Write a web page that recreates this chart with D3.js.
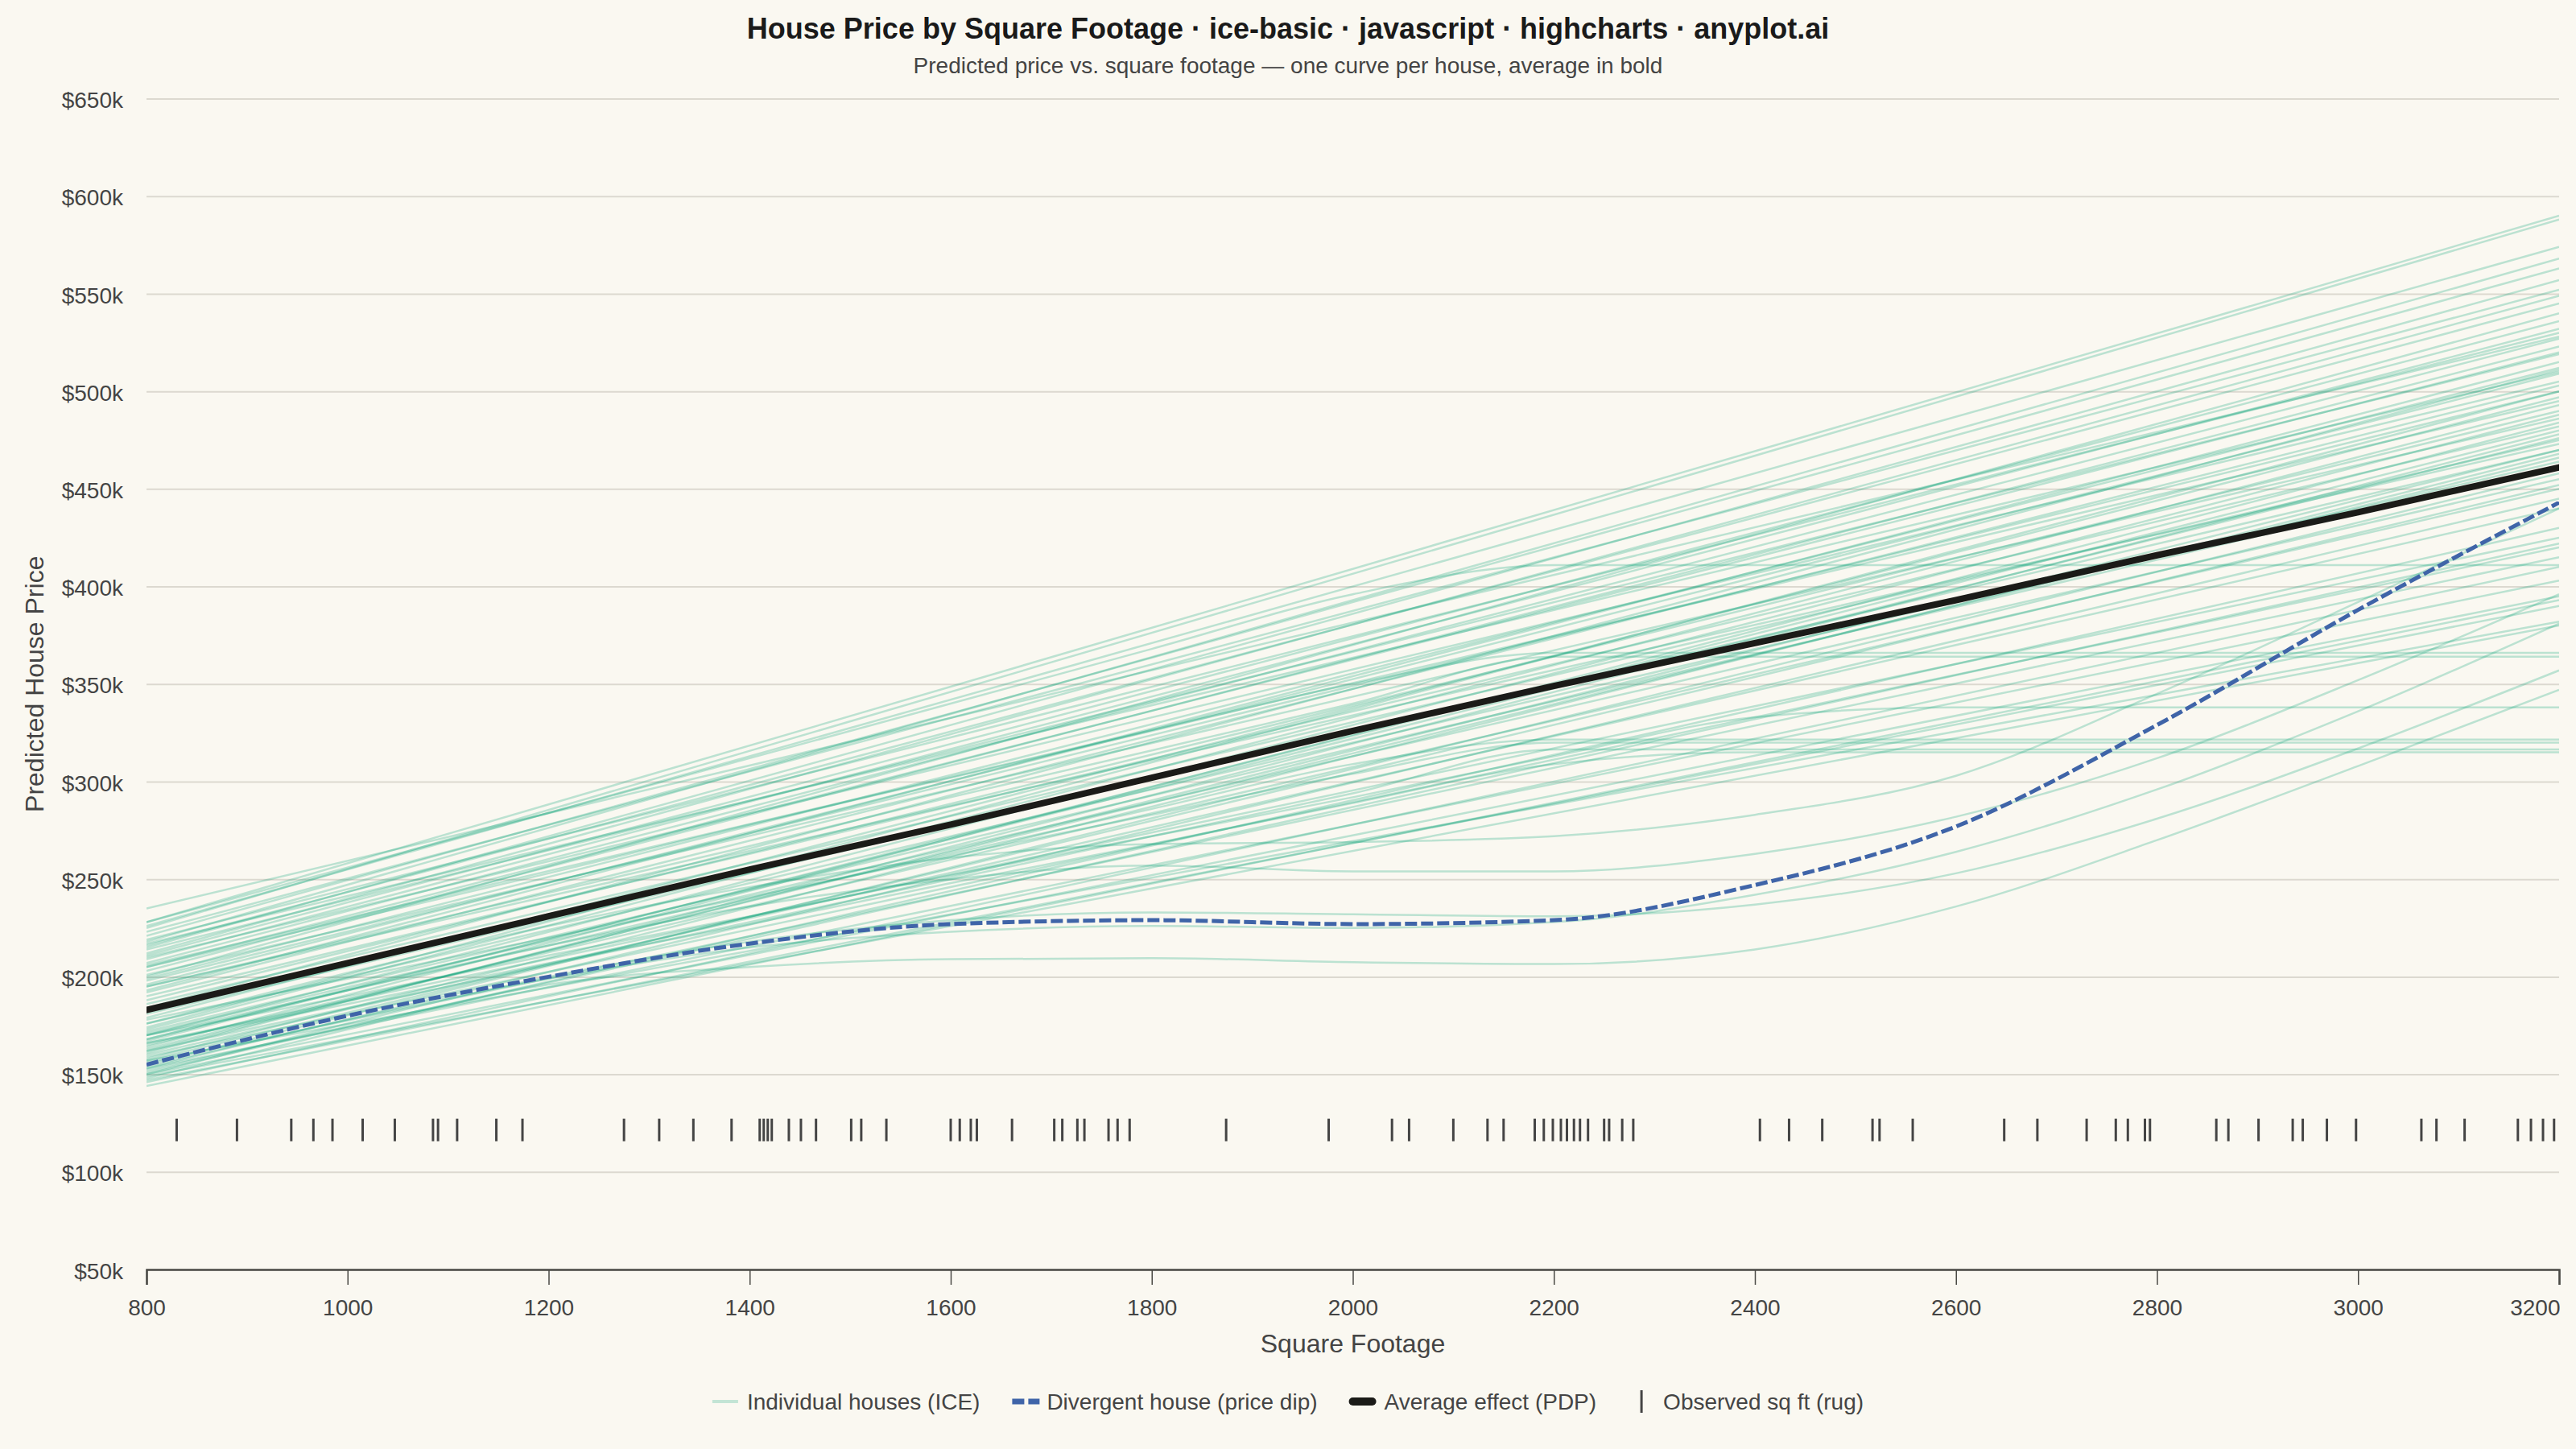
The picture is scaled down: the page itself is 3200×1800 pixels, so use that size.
<!DOCTYPE html>
<html>
<head>
<meta charset="utf-8">
<script src="https://cdn.jsdelivr.net/npm/d3@7"></script>
<style>
  body { margin: 0; background: #faf8f1; }
  svg { display: block; font-family: "Liberation Sans", Arial, Helvetica, sans-serif; }
</style>
</head>
<body>
<svg id="chart" width="3200" height="1800"></svg>
<script>
// ---- data (prices in $k) ----
const sqftTicks = [800, 1000, 1200, 1400, 1600, 1800, 2000, 2200, 2400, 2600, 2800, 3000, 3200];
const priceTicks = [50, 100, 150, 200, 250, 300, 350, 400, 450, 500, 550, 600, 650];

// straight ICE curves: predicted price at 800 and at 3200 sq ft
const iceStart = [235, 228, 226, 225, 223, 221, 219, 218, 216, 215, 214, 212, 210, 209, 207, 206,
                  203, 201, 199, 198, 196, 195, 192, 190, 188, 184, 181, 179, 176, 173, 171, 170,
                  168, 166, 164, 163, 161, 159, 158, 156, 155, 153, 152, 150, 147, 144, 157, 149,
                  146, 151, 154, 157, 160, 162, 165, 167, 172, 174, 186, 193, 200, 205, 211, 217];
const iceEnd   = [528, 590, 574, 588, 552, 563, 530, 568, 545, 557, 519, 549, 505, 532, 527, 495,
                  523, 486, 512, 500, 509, 473, 503, 482, 490, 511, 470, 497, 464, 493, 455, 488,
                  476, 425, 484, 466, 478, 420, 468, 415, 458, 403, 422, 395, 390, 393, 382, 380,
                  410, 430, 445, 452, 440, 470, 450, 480, 462, 500, 475, 515, 540, 520, 536, 510];

// ICE curves that level off (values on sqftTicks)
const icePlateau = [
  [228, 256, 284, 312, 340, 368, 396, 411, 411, 411, 411, 411, 411],
  [205, 229, 253, 278, 302, 326, 350, 366, 366, 366, 366, 366, 366],
  [195, 219, 243, 267, 292, 316, 340, 364, 364, 364, 364, 364, 364],
  [170, 190, 211, 231, 252, 272, 292, 313, 333, 338, 338, 338, 338],
  [170, 193, 216, 240, 263, 286, 309, 321.5, 321.5, 321.5, 321.5, 321.5, 321.5],
  [178, 199, 220, 241, 262, 283, 304, 320, 320, 320, 320, 320, 320],
  [162, 184, 206, 228, 250, 272, 294, 316.5, 316.5, 316.5, 316.5, 316.5, 316.5],
  [166, 186, 207, 227, 248, 268, 289, 309, 315, 315, 315, 315, 315]
];

// ICE curves with a mid-range dip (values on sqftTicks)
const iceDip = [
  [148, 173, 196, 205, 209, 209.5, 207.5, 206.5, 214, 236, 270, 308, 347],
  [150, 176, 200, 218, 229, 233, 232, 231, 237, 253, 281, 317, 357],
  [153, 178, 199, 215, 223, 226, 225, 228, 242, 264, 296, 336, 381],
  [168, 193, 216, 236, 250, 257, 254, 254, 263, 282, 312, 352, 396],
  [176, 202, 226, 246, 261, 268, 269, 272, 283, 303, 345, 392, 440]
];

const divergentHouse = [155, 180, 200, 217, 227, 229, 227, 229, 247, 277, 329, 388, 443];
const averageEffect  = [183, 207, 231, 255, 278, 302, 326, 349, 371, 393, 416, 438, 461];

const rugSqft = [830, 890, 944, 966, 985, 1015, 1047, 1085, 1090, 1109, 1148, 1174, 1275, 1310,
                 1344, 1382, 1410, 1414, 1418, 1422, 1439, 1451, 1466, 1501, 1511, 1536, 1600,
                 1609, 1620, 1626, 1661, 1703, 1711, 1726, 1733, 1757, 1766, 1778, 1874, 1976,
                 2039, 2056, 2100, 2134, 2150, 2181, 2190, 2199, 2207, 2213, 2220, 2226, 2234,
                 2250, 2255, 2268, 2279, 2405, 2434, 2467, 2517, 2524, 2557, 2648, 2681, 2730,
                 2759, 2771, 2788, 2793, 2859, 2871, 2901, 2935, 2945, 2969, 2998, 3063, 3078,
                 3106, 3159, 3172, 3184, 3195];
const rugLevel = 121.5;

const legendLabels = ["Individual houses (ICE)", "Divergent house (price dip)",
                      "Average effect (PDP)", "Observed sq ft (rug)"];

// ---- layout ----
const W = 3200, H = 1800;
const plot = {left: 182, right: 3179, top: 122.5, bottom: 1577};
const iceColor = "#009e73", blue = "#3f64a8", ink = "#1b1b18", grey = "#444444";

const svg = d3.select("#chart");
svg.append("rect").attr("width", W).attr("height", H).attr("fill", "#faf8f1");

const x = d3.scaleLinear().domain([800, 3200]).range([plot.left, plot.right]);
const y = d3.scaleLinear().domain([50, 650]).range([plot.bottom, plot.top]);

svg.append("defs").append("clipPath").attr("id", "plot-clip")
  .append("rect")
  .attr("x", plot.left).attr("y", plot.top - 10)
  .attr("width", plot.right - plot.left).attr("height", plot.bottom - plot.top + 10);

// titles
svg.append("text").attr("x", W / 2).attr("y", 48).attr("text-anchor", "middle")
  .attr("font-size", 36).attr("font-weight", "bold").attr("fill", "#1a1a1a")
  .text("House Price by Square Footage · ice-basic · javascript · highcharts · anyplot.ai");
svg.append("text").attr("x", W / 2).attr("y", 91).attr("text-anchor", "middle")
  .attr("font-size", 28).attr("fill", grey)
  .text("Predicted price vs. square footage — one curve per house, average in bold");

// y grid + labels
const yAxis = d3.axisLeft(y).tickValues(priceTicks)
  .tickSize(-(plot.right - plot.left)).tickPadding(29)
  .tickFormat(d => "$" + d + "k");
const gy = svg.append("g").attr("transform", `translate(${plot.left},0)`).call(yAxis);
gy.select(".domain").remove();
gy.selectAll(".tick line").attr("stroke", "#dcd9d0").attr("stroke-width", 2);
gy.selectAll(".tick text").attr("font-size", 28).attr("fill", grey)
  .attr("font-family", "Liberation Sans, Arial, sans-serif").attr("dy", "0.4em");

// x axis
const xAxis = d3.axisBottom(x).tickValues(sqftTicks).tickSize(19).tickPadding(18)
  .tickFormat(d3.format("d"));
const gx = svg.append("g").attr("transform", `translate(0,${plot.bottom})`).call(xAxis);
gx.select(".domain").attr("stroke", "#4a4a45").attr("stroke-width", 2.5);
gx.selectAll(".tick line").attr("stroke", "#4a4a45").attr("stroke-width", 1.5);
gx.selectAll(".tick text").attr("font-size", 28).attr("fill", grey)
  .attr("font-family", "Liberation Sans, Arial, sans-serif");
gx.selectAll(".tick text").filter(d => d === 3200)
  .attr("text-anchor", "end").attr("x", plot.right + 1 - x(3200));

svg.append("text").attr("x", (plot.left + plot.right) / 2).attr("y", 1680)
  .attr("text-anchor", "middle").attr("font-size", 32).attr("fill", grey)
  .text("Square Footage");
svg.append("text").attr("transform", `translate(43,${(plot.top + plot.bottom) / 2}) rotate(-90)`)
  .attr("text-anchor", "middle").attr("dominant-baseline", "central")
  .attr("font-size", 32).attr("fill", grey)
  .text("Predicted House Price");

// series
const series = svg.append("g").attr("clip-path", "url(#plot-clip)");
const gridLine = d3.line().x((d, i) => x(sqftTicks[i])).y(d => y(d)).curve(d3.curveMonotoneX);
const straight = d3.line().x(d => x(d[0])).y(d => y(d[1]));

const iceG = series.append("g").attr("fill", "none").attr("stroke", iceColor)
  .attr("stroke-width", 2.5).attr("stroke-opacity", 0.25);
iceG.selectAll("path.lin").data(iceStart).join("path").attr("class", "lin")
  .attr("d", (s, i) => straight([[800, s], [3200, iceEnd[i]]]));
iceG.selectAll("path.plat").data(icePlateau).join("path").attr("class", "plat")
  .attr("d", gridLine);
iceG.selectAll("path.dip").data(iceDip).join("path").attr("class", "dip")
  .attr("d", gridLine);

series.append("path").datum(divergentHouse).attr("d", gridLine)
  .attr("fill", "none").attr("stroke", blue).attr("stroke-width", 5)
  .attr("stroke-dasharray", "15,5");

series.append("path").datum(averageEffect).attr("d", gridLine)
  .attr("fill", "none").attr("stroke", ink).attr("stroke-width", 8)
  .attr("stroke-linecap", "round");

svg.append("g").selectAll("line").data(rugSqft).join("line")
  .attr("x1", d => x(d)).attr("x2", d => x(d))
  .attr("y1", y(rugLevel) - 14).attr("y2", y(rugLevel) + 14)
  .attr("stroke", grey).attr("stroke-width", 3);

// legend
const legendY = 1741;
const legend = svg.append("g");
const items = legend.selectAll("g").data(legendLabels).join("g");
items.append("text").attr("x", 43).attr("y", legendY).attr("dy", "0.35em")
  .attr("font-size", 28).attr("fill", grey).text(d => d);
items.each(function (d, i) {
  const g = d3.select(this);
  if (i === 0) {
    g.append("line").attr("x1", 0).attr("x2", 32).attr("y1", legendY).attr("y2", legendY)
      .attr("stroke", iceColor).attr("stroke-opacity", 0.22).attr("stroke-width", 4);
  } else if (i === 1) {
    g.append("line").attr("x1", 0).attr("x2", 34).attr("y1", legendY).attr("y2", legendY)
      .attr("stroke", blue).attr("stroke-width", 7).attr("stroke-dasharray", "15,5");
  } else if (i === 2) {
    g.append("line").attr("x1", 4).attr("x2", 28).attr("y1", legendY).attr("y2", legendY)
      .attr("stroke", ink).attr("stroke-width", 10).attr("stroke-linecap", "round");
  } else {
    g.append("line").attr("x1", 16).attr("x2", 16).attr("y1", legendY - 14).attr("y2", legendY + 14)
      .attr("stroke", grey).attr("stroke-width", 3);
  }
});
const widths = [];
items.select("text").each(function () { widths.push(43 + this.getComputedTextLength()); });
const total = d3.sum(widths) + 40 * (widths.length - 1);
let cursor = W / 2 - total / 2;
items.attr("transform", (d, i) => {
  const t = `translate(${cursor},0)`;
  cursor += widths[i] + 40;
  return t;
});
</script>
</body>
</html>
